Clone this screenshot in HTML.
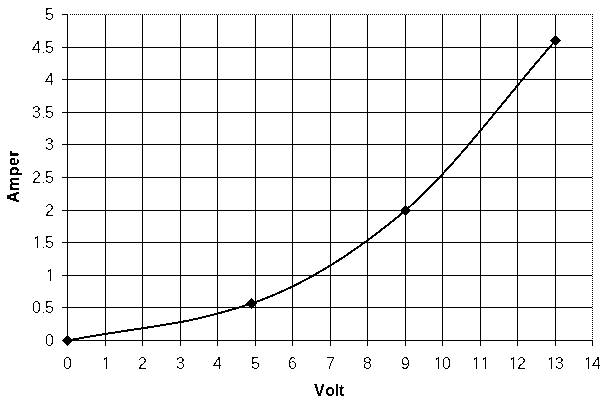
<!DOCTYPE html>
<html lang="en"><head><meta charset="utf-8"><title>Volt / Amper</title>
<style>
html,body{margin:0;padding:0;background:#fff;}
body{width:605px;height:403px;overflow:hidden;}
svg{display:block;}
text{font-family:"Liberation Sans",Arial,sans-serif;font-size:16px;fill:#000;}
.b{font-weight:bold;}
</style></head><body>
<svg width="605" height="403" viewBox="0 0 605 403">
<defs>
<filter id="crisp" x="-5%" y="-5%" width="110%" height="110%" color-interpolation-filters="sRGB"><feComponentTransfer><feFuncA type="discrete" tableValues="0 0 0 1 1"/></feComponentTransfer></filter>
<filter id="crispb" x="-5%" y="-5%" width="110%" height="110%" color-interpolation-filters="sRGB"><feComponentTransfer><feFuncA type="discrete" tableValues="0 1"/></feComponentTransfer></filter>
</defs>
<rect width="605" height="403" fill="#fff"/>
<g shape-rendering="crispEdges" stroke="#000" stroke-width="1" fill="none">
<line x1="67.5" y1="14" x2="67.5" y2="346"/>
<line x1="105.5" y1="15" x2="105.5" y2="346"/>
<line x1="142.5" y1="15" x2="142.5" y2="346"/>
<line x1="180.5" y1="15" x2="180.5" y2="346"/>
<line x1="217.5" y1="15" x2="217.5" y2="346"/>
<line x1="255.5" y1="15" x2="255.5" y2="346"/>
<line x1="292.5" y1="15" x2="292.5" y2="346"/>
<line x1="330.5" y1="15" x2="330.5" y2="346"/>
<line x1="367.5" y1="15" x2="367.5" y2="346"/>
<line x1="405.5" y1="15" x2="405.5" y2="346"/>
<line x1="442.5" y1="15" x2="442.5" y2="346"/>
<line x1="480.5" y1="15" x2="480.5" y2="346"/>
<line x1="517.5" y1="15" x2="517.5" y2="346"/>
<line x1="555.5" y1="15" x2="555.5" y2="346"/>
<line x1="592.5" y1="14" x2="592.5" y2="340" stroke-dasharray="1 1"/>
<line x1="592.5" y1="340" x2="592.5" y2="346"/>
<line x1="62" y1="340.5" x2="593" y2="340.5"/>
<line x1="62" y1="307.5" x2="592" y2="307.5"/>
<line x1="62" y1="275.5" x2="592" y2="275.5"/>
<line x1="62" y1="242.5" x2="592" y2="242.5"/>
<line x1="62" y1="210.5" x2="592" y2="210.5"/>
<line x1="62" y1="177.5" x2="592" y2="177.5"/>
<line x1="62" y1="144.5" x2="592" y2="144.5"/>
<line x1="62" y1="112.5" x2="592" y2="112.5"/>
<line x1="62" y1="79.5" x2="592" y2="79.5"/>
<line x1="62" y1="47.5" x2="592" y2="47.5"/>
<line x1="62" y1="14.5" x2="68" y2="14.5"/>
<line x1="70" y1="14.5" x2="593" y2="14.5" stroke-dasharray="1 1"/>
</g>
<path d="M67.50 340.50 C157.27 323.86 178.53 327.29 251.50 303.50 C305.30 285.30 354.50 253.40 405.50 210.50 C456.17 166.67 505.50 97.17 555.50 40.50" fill="none" stroke="#000" stroke-width="2" stroke-linejoin="round" shape-rendering="crispEdges"/>
<path d="M62.0 340.5 L67.5 335.0 L73.0 340.5 L67.5 346.0 Z" fill="#000" shape-rendering="crispEdges"/>
<path d="M246.0 303.5 L251.5 298.0 L257.0 303.5 L251.5 309.0 Z" fill="#000" shape-rendering="crispEdges"/>
<path d="M400.0 210.5 L405.5 205.0 L411.0 210.5 L405.5 216.0 Z" fill="#000" shape-rendering="crispEdges"/>
<path d="M550.0 40.5 L555.5 35.0 L561.0 40.5 L555.5 46.0 Z" fill="#000" shape-rendering="crispEdges"/>
<g filter="url(#crisp)">
<text x="45.05" y="346">0</text>
<text y="313"><tspan x="32.05">0</tspan><tspan x="42.10" font-size="10">.</tspan><tspan x="45.05">5</tspan></text>
<text x="46.05" y="281">1</text>
<text y="248"><tspan x="33.05">1</tspan><tspan x="42.10" font-size="10">.</tspan><tspan x="45.05">5</tspan></text>
<text x="45.05" y="216">2</text>
<text y="183"><tspan x="32.05">2</tspan><tspan x="42.10" font-size="10">.</tspan><tspan x="45.05">5</tspan></text>
<text x="45.05" y="150">3</text>
<text y="118"><tspan x="32.05">3</tspan><tspan x="42.10" font-size="10">.</tspan><tspan x="45.05">5</tspan></text>
<text x="45.05" y="85">4</text>
<text y="53"><tspan x="32.05">4</tspan><tspan x="42.10" font-size="10">.</tspan><tspan x="45.05">5</tspan></text>
<text x="45.05" y="20">5</text>
<text x="63.05" y="369">0</text>
<text x="102.05" y="369">1</text>
<text x="138.05" y="369">2</text>
<text x="176.05" y="369">3</text>
<text x="213.05" y="369">4</text>
<text x="251.05" y="369">5</text>
<text x="288.05" y="369">6</text>
<text x="326.05" y="369">7</text>
<text x="363.05" y="369">8</text>
<text x="401.05" y="369">9</text>
<text x="434.05 442.05" y="369">10</text>
<text x="472.05 481.05" y="369">11</text>
<text x="509.05 517.05" y="369">12</text>
<text x="547.05 555.05" y="369">13</text>
<text x="584.05 592.05" y="369">14</text>
</g>
<path d="M47 280h3v1h-3zM51 280h3v1h-3zM34 247h3v1h-3zM38 247h3v1h-3zM103 368h3v1h-3zM107 368h3v1h-3zM435 368h3v1h-3zM439 368h3v1h-3zM473 368h3v1h-3zM477 368h3v1h-3zM482 368h3v1h-3zM486 368h3v1h-3zM510 368h3v1h-3zM514 368h3v1h-3zM548 368h3v1h-3zM552 368h3v1h-3zM585 368h3v1h-3zM589 368h3v1h-3z" fill="#fff" shape-rendering="crispEdges"/>
<g filter="url(#crispb)">
<text class="b" x="314 325.2 334.9 339" y="396">Volt</text>
<text class="b" transform="translate(18.8 176.5) rotate(-90)" text-anchor="middle" letter-spacing="0.4">Amper</text>
</g>
</svg>
</body></html>
